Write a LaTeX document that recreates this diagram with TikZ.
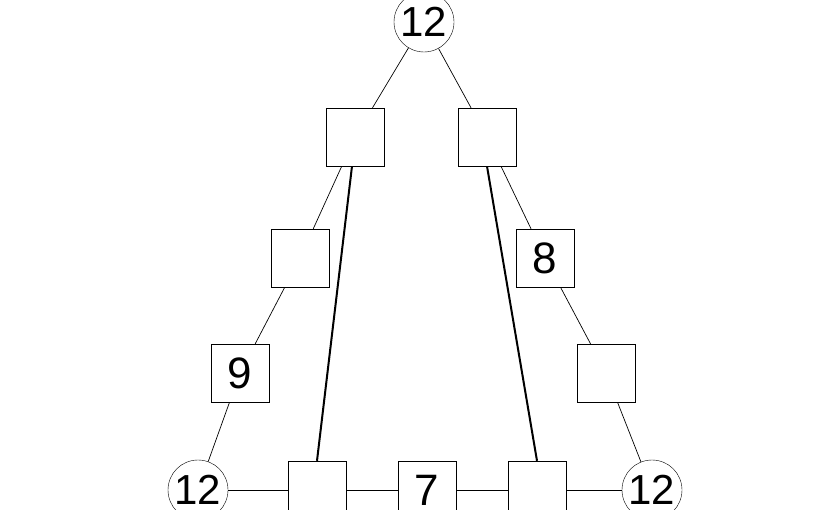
\documentclass[tikz,border=0pt]{standalone}
\usepackage{fontspec}
\setmainfont{Liberation Sans}
\begin{document}
\begin{tikzpicture}[x=1pt,y=-1pt,
  circ/.style={circle,draw,fill=white,minimum size=60pt,inner sep=0pt,font=\fontsize{42}{42}\selectfont},
  sq/.style={rectangle,draw,fill=white,minimum size=58pt,inner sep=0pt,font=\fontsize{44}{44}\selectfont},
  thin/.style={draw,line width=0.7pt},
  thick/.style={draw,line width=2pt}]
\useasboundingbox (0,0) rectangle (825,510);
\node[circ] (t) at (424,22) {12};
\node[circ] (bl) at (198,490) {12};
\node[circ] (br) at (652,490) {12};
\node[sq] (l1) at (355,137) {};
\node[sq] (l2) at (300,258) {};
\node[sq] (l3) at (240,373) {9};
\node[sq] (r1) at (487,137) {};
\node[sq] (r2) at (545,258) {8};
\node[sq] (r3) at (606,373) {};
\node[sq] (b1) at (317,490) {};
\node[sq] (b2) at (427,490) {7};
\node[sq] (b3) at (537,490) {};
\begin{scope}[on background layer/.style={}]
\end{scope}
\draw[thin] (t) -- (l1) (l1) -- (l2) (l2) -- (l3) (l3) -- (bl);
\draw[thin] (t) -- (r1) (r1) -- (r2) (r2) -- (r3) (r3) -- (br);
\draw[thin] (bl) -- (b1) (b1) -- (b2) (b2) -- (b3) (b3) -- (br);
\draw[thick] ([xshift=-3pt]l1.south) -- (b1.north);
\draw[thick] (r1.south) -- (b3.north);
\end{tikzpicture}
\end{document}
